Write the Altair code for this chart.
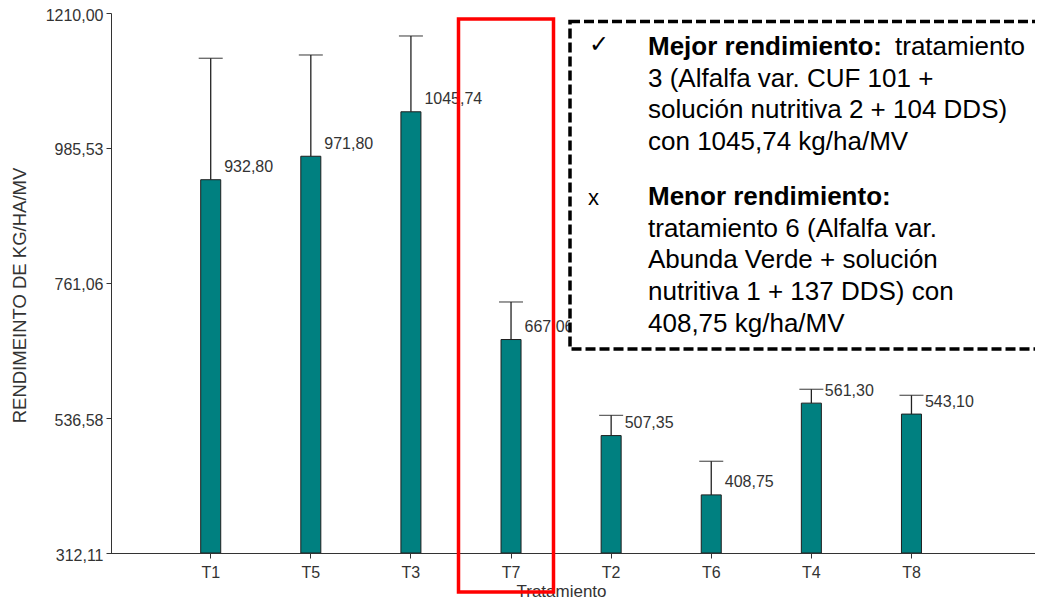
import altair as alt
import pandas as pd

# ---- data ----
categories = ["T1", "T5", "T3", "T7", "T2", "T6", "T4", "T8"]
means = [932.80, 971.80, 1045.74, 667.06, 507.35, 408.75, 561.30, 543.10]
upper = [1134.7, 1140.2, 1171.8, 729.5, 541.1, 464.6, 584.3, 574.3]
y_ticks = [312.11, 536.58, 761.06, 985.53, 1210.00]

y_title = "RENDIMEINTO DE KG/HA/MV"
x_title = "Tratamiento"

check_mark = "\u2713"
cross_mark = "x"
best_head = "Mejor rendimiento:"
best_tail = "tratamiento"
best_lines = ["3 (Alfalfa var. CUF 101 +", "solución nutritiva 2 + 104 DDS)", "con 1045,74 kg/ha/MV"]
worst_head = "Menor rendimiento:"
worst_lines = ["tratamiento 6 (Alfalfa var.", "Abunda Verde + solución",
               "nutritiva 1 + 137 DDS) con", "408,75 kg/ha/MV"]

# ---- table built from the arrays ----
df = pd.DataFrame({"cat": categories, "mean": means, "upper": upper})
df["label"] = [f"{v:.2f}".replace(".", ",") for v in means]
df["base"] = y_ticks[0]

FONT = "Liberation Sans"
INK = "#333333"

yscale = alt.Scale(domain=[y_ticks[0], y_ticks[-1]], zero=False, nice=False)
xscale = alt.Scale(paddingInner=0.8, paddingOuter=1, align=0.448)

x_axis = alt.X(
    "cat:N", sort=categories, scale=xscale,
    axis=alt.Axis(title=x_title, labelAngle=0, domain=False, tickSize=5,
                  labelPadding=6, titleX=450, titleY=43, titleAlign="center",
                  titleBaseline="alphabetic"),
)
x_plain = alt.X("cat:N", sort=categories, scale=xscale)

y_axis = alt.Y(
    "mean:Q", scale=yscale,
    axis=alt.Axis(values=y_ticks, title=y_title, grid=False, tickSize=5,
                  labelPadding=3, labelFlush=False, labelOverlap=False, labelOffset=2,
                  labelExpr="replace(format(datum.value, '.2f'), '.', ',')",
                  titleX=-92, titleY=282, titleAngle=270, titleAlign="center",
                  titleBaseline="middle", titleFontSize=18.5),
)

base = alt.Chart(df)

bars = base.mark_bar(color="#008080", stroke="#1f1f1f", strokeWidth=1).encode(
    x=x_axis, y=y_axis, y2="base:Q")

err = base.mark_rule(color="#222222", strokeWidth=1.3).encode(
    x=x_plain, y="mean:Q", y2="upper:Q")

caps = base.mark_tick(color="#222222", size=24, thickness=1.3).encode(
    x=x_plain, y="upper:Q")

labels = base.mark_text(align="left", baseline="middle", dx=13.5, dy=-12.5,
                        font=FONT, fontSize=16, color=INK).encode(
    x=x_plain, y="mean:Q", text="label:N")


def single():
    return alt.Chart(pd.DataFrame({"k": [0]}))


baseline = single().mark_rule(color=INK, strokeWidth=1).encode(
    x=alt.value(0), x2=alt.value(932), y=alt.value(540.5))

dashed_box = single().mark_rect(fill="white", stroke="black", strokeWidth=3.5,
                                strokeDash=[10, 4]).encode(
    x=alt.value(459), x2=alt.value(945), y=alt.value(8.5), y2=alt.value(336))

red_box = single().mark_rect(fillOpacity=0, stroke="#ff0000", strokeWidth=3.5).encode(
    x=alt.value(347.5), x2=alt.value(442.5), y=alt.value(6), y2=alt.value(579))

BOX_FS = 26
LH = 31.7


def txt(text, xpix, ypix, size=BOX_FS, weight="normal", font=FONT, lh=LH):
    return single().mark_text(align="left", baseline="alphabetic", font=font,
                              fontSize=size, fontWeight=weight, color="black",
                              lineHeight=lh).encode(
        x=alt.value(xpix), y=alt.value(ypix), text=alt.value(text))


texts = [
    txt(check_mark, 478, 39, size=24, font="DejaVu Sans"),
    txt(best_head, 537, 42, weight="bold"),
    txt(best_tail, 784, 42),
    txt(best_lines, 537, 73.7),
    txt(cross_mark, 477, 192, size=22),
    txt(worst_head, 537, 192, weight="bold"),
    txt(worst_lines, 537, 223.7),
]

chart = alt.layer(bars, err, caps, labels, baseline, dashed_box, red_box, *texts).properties(
    width=921, height=540,
    padding={"left": 103, "top": 5, "right": 3, "bottom": 47},
    autosize=alt.AutoSizeParams(type="none"),
).configure_view(strokeWidth=0).configure_axis(
    labelFont=FONT, labelFontSize=16, labelColor=INK,
    titleFont=FONT, titleFontSize=17, titleColor=INK, titleFontWeight="normal",
    domainColor=INK, tickColor=INK, domainWidth=1, tickWidth=1,
)

chart.save("out.html", embed_options={"renderer": "svg", "actions": False})
